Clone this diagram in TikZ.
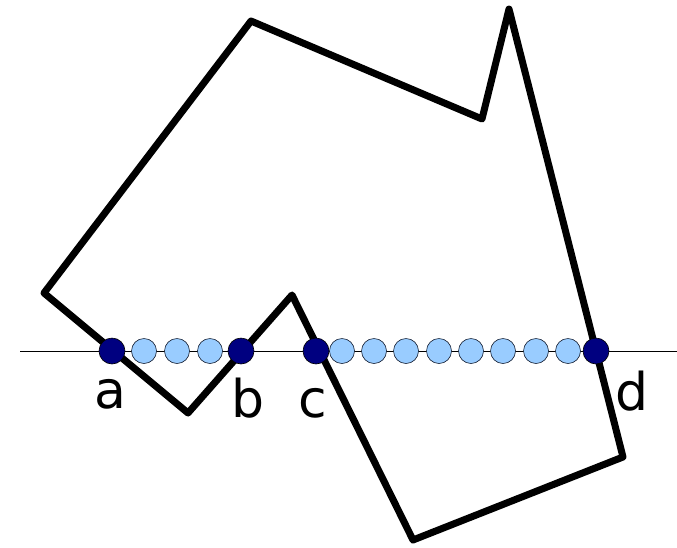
\documentclass[tikz,border=0pt]{standalone}
\usepackage{fontspec}
\setmainfont{DejaVu Sans}
\begin{document}
\begin{tikzpicture}[x=1pt,y=-1pt,
  poly/.style={line width=7pt,line join=round,line cap=round},
  ray/.style={line width=0.9pt},
  hit/.style={circle,draw=black,line width=0.6pt,fill={rgb,255:red,0;green,0;blue,128},minimum size=26pt,inner sep=0pt},
  probe/.style={circle,draw={rgb,255:red,20;green,30;blue,50},line width=0.6pt,fill={rgb,255:red,153;green,204;blue,255},minimum size=25pt,inner sep=0pt},
  lbl/.style={font=\fontsize{52}{52}\selectfont,inner sep=0pt,anchor=base}]
\useasboundingbox (0,0) rectangle (677,547);
\draw[poly] (44,293) -- (251,21) -- (482,119) -- (509,9) -- (623,457) -- (413,540) -- (292,295) -- (188,413) -- cycle;
\coordinate (L) at (20,351);
\coordinate (R) at (677,351);
\draw[ray] (L) -- (R);
\foreach \x [count=\i] in {144,177,210} \node[probe] (p\i) at (\x,351) {};
\foreach \x [count=\i] in {342,374,406,439,471,503,536,568} \node[probe] (q\i) at (\x,351) {};
\node[hit] (a) at (112,351) {};
\node[hit] (b) at (241,351) {};
\node[hit] (c) at (316,351) {};
\node[hit] (d) at (596,351) {};
\node[lbl] (la) at (110,408) {a};
\node[lbl] (lb) at (248,417) {b};
\node[lbl] (lc) at (313,417) {c};
\node[lbl] (ld) at (632,410) {d};
\end{tikzpicture}
\end{document}
